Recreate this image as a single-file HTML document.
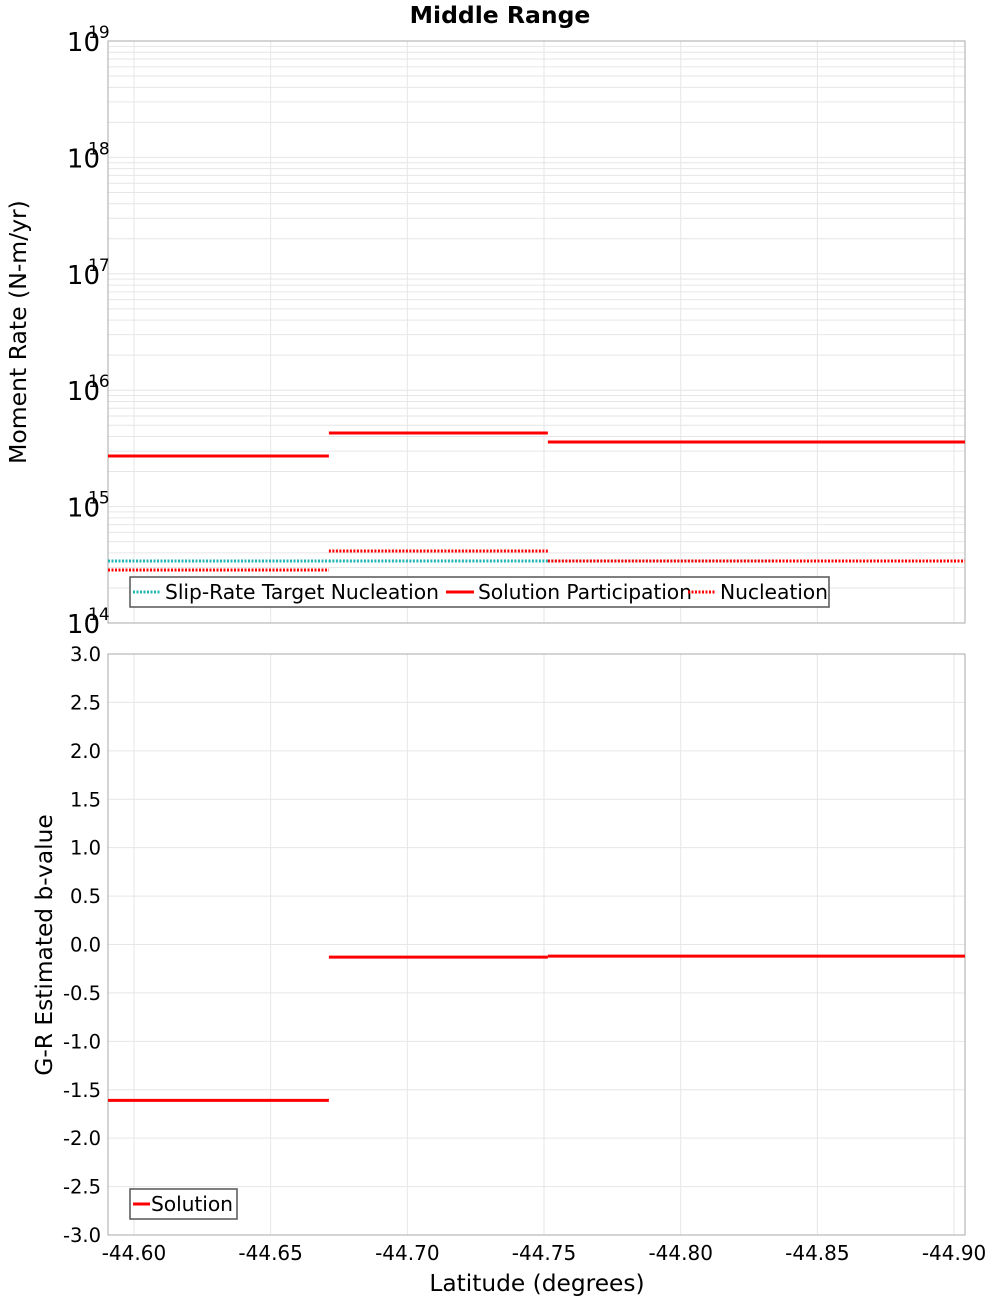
<!DOCTYPE html>
<html><head><meta charset="utf-8"><style>
body{margin:0;background:#fff}
svg{display:block;font-family:"DejaVu Sans","Liberation Sans",sans-serif}
</style></head><body>
<svg id="c" width="1000" height="1300"></svg>
<script>
const segEdges=[-44.5905,-44.6713,-44.7514,-44.8334,-44.904];
const participation=[2.72e15,4.29e15,3.59e15,3.59e15];
const nucleation=[2.85e14,4.16e14,3.41e14,3.41e14];
const targetNucleation=[3.41e14,3.41e14,3.41e14,3.41e14];
const bValues=[-1.61,-0.13,-0.12,-0.12];
const xTicks=[-44.60,-44.65,-44.70,-44.75,-44.80,-44.85,-44.90];
const xTickLabels=["-44.60","-44.65","-44.70","-44.75","-44.80","-44.85","-44.90"];
const yLogExps=[14,15,16,17,18,19];
const yBTicks=[-3,-2.5,-2,-1.5,-1,-0.5,0,0.5,1,1.5,2,2.5,3];

const NS="http://www.w3.org/2000/svg";
const svg=document.getElementById('c');
const L=108,R=965,T1=41,B1=623,T2=654,B2=1235;
const X0=-44.5905,X1=-44.904;
const sx=v=>L+(v-X0)/(X1-X0)*(R-L);
const sy1=v=>T1+(19-Math.log10(v))/5*(B1-T1);
const sy2=v=>T2+(3-v)/6*(B2-T2);
function el(tag,a,p){const e=document.createElementNS(NS,tag);for(const k in a)e.setAttribute(k,a[k]);(p||svg).appendChild(e);return e;}
function txt(s,a){const e=el('text',a);e.textContent=s;return e;}

let t=txt("Middle Range",{x:500,y:23,'text-anchor':'middle','font-size':23.5,'font-weight':'bold'});



for(const [T,B] of [[T1,B1],[T2,B2]]){
  for(const v of xTicks){const g=el('line',{x1:sx(v),x2:sx(v),y1:T,y2:B,stroke:'#e6e6e6'});
    
    }
}
for(let e=14;e<19;e++){for(let m=1;m<10;m++){const y=sy1(m*Math.pow(10,e));
  const g=el('line',{x1:L,x2:R,y1:y,y2:y,stroke:'#e6e6e6'});
  
  }}
for(const v of yBTicks){const y=sy2(v);const g=el('line',{x1:L,x2:R,y1:y,y2:y,stroke:'#e6e6e6'});
  
  }

for(const [T,B,n] of [[T1,B1,'top-plot-frame'],[T2,B2,'bottom-plot-frame']]){
  const r=el('rect',{x:L,y:T,width:R-L,height:B-T,fill:'none',stroke:'#aaa'});
  
  
}

for(const e of yLogExps){const y=sy1(Math.pow(10,e));
  const g=el('g',{});
  
  
  const a=el('text',{x:100,y:y+10,'text-anchor':'end','font-size':26},g);a.textContent='10';
  const b=el('text',{x:88,y:y-3,'font-size':17},g);b.textContent=String(e);
}
for(const v of yBTicks){const l=txt(v.toFixed(1),{x:101,y:sy2(v)+7,'text-anchor':'end','font-size':19.5});
  
  }
xTicks.forEach((v,i)=>{const l=txt(xTickLabels[i],{x:sx(v),y:1260,'text-anchor':'middle','font-size':20});
  
  });

t=txt("Latitude (degrees)",{x:537,y:1291,'text-anchor':'middle','font-size':23.3});


t=txt("Moment Rate (N-m/yr)",{x:0,y:0,'text-anchor':'middle','font-size':23.5,transform:'translate(26,332) rotate(-90)'});


t=txt("G-R Estimated b-value",{x:0,y:0,'text-anchor':'middle','font-size':23.3,transform:'translate(52,945) rotate(-90)'});



function seg(vals,sy,color,dash,name){
  vals.forEach((v,i)=>{const y=sy(v);
    const a={x1:sx(segEdges[i]),x2:sx(segEdges[i+1]),y1:y,y2:y,stroke:color,'stroke-width':3};
    if(dash)a['stroke-dasharray']=dash;
    const l=el('line',a);
    
    });
}
seg(targetNucleation,sy1,'#1fb5b5','2 1.5','target-nucleation-segment');
seg(nucleation,sy1,'#ff0000','2 1.5','nucleation-segment');
seg(participation,sy1,'#ff0000',null,'participation-segment');
seg(bValues,sy2,'#ff0000',null,'b-value-segment');

let lg=el('g',{});


el('rect',{x:130,y:577,width:699,height:30,fill:'#fff',stroke:'#555','stroke-width':1.5},lg);
const items=[['Slip-Rate Target Nucleation','#1fb5b5',true,133],['Solution Participation','#ff0000',false,446],['Nucleation','#ff0000',true,688]];
for(const [n,c,d,x] of items){
  const a={x1:x,x2:x+28,y1:592,y2:592,stroke:c,'stroke-width':3};if(d)a['stroke-dasharray']='2 1.5';
  el('line',a,lg);
  const tt=el('text',{x:x+32,y:599,'font-size':20.3,textLength:n.length>20?(n.length>22?274:214):108},lg);tt.textContent=n;
}
lg=el('g',{});


el('rect',{x:130,y:1189,width:107,height:30,fill:'#fff',stroke:'#555','stroke-width':1.5},lg);
el('line',{x1:133,x2:150,y1:1204,y2:1204,stroke:'#ff0000','stroke-width':3},lg);
const tt=el('text',{x:151,y:1211,'font-size':20.3,textLength:82},lg);tt.textContent='Solution';
</script>
</body></html>
